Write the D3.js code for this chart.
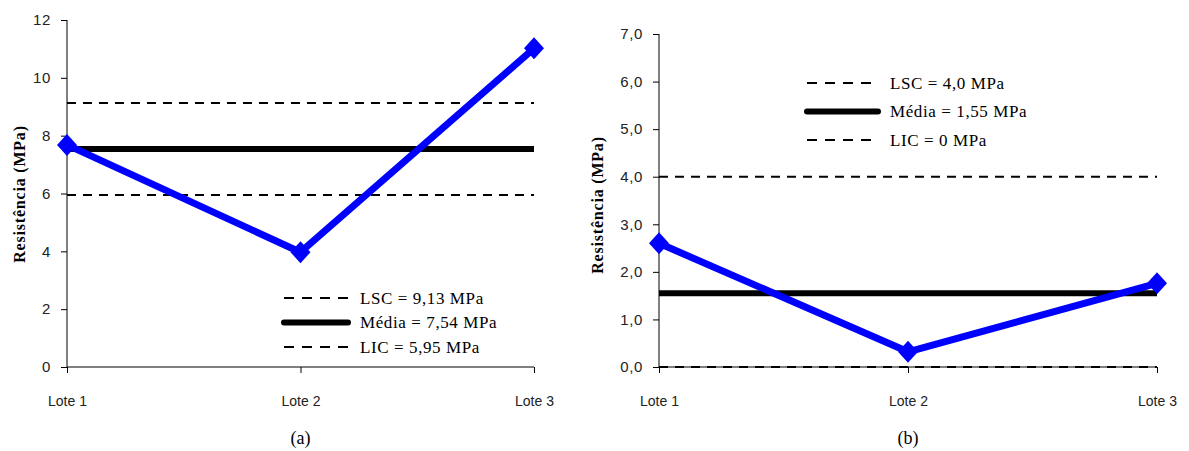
<!DOCTYPE html>
<html>
<head>
<meta charset="utf-8">
<script src="https://cdn.jsdelivr.net/npm/d3@7"></script>
<style>
  body { margin: 0; background: #fff; }
  svg { display: block; }
</style>
</head>
<body>
<svg id="chart" width="1189" height="451"></svg>
<script>
// dados
var lotes = ["Lote 1", "Lote 2", "Lote 3"];
var resistA = [7.68, 3.97, 11.02];
var resistB = [2.6, 0.32, 1.76];
var limitesA = [9.13, 7.54, 5.95];   // LSC, Media, LIC
var limitesB = [4.0, 1.55, 0];
var legendaA = ["LSC = 9,13 MPa", "Média = 7,54 MPa", "LIC = 5,95 MPa"];
var legendaB = ["LSC = 4,0 MPa", "Média = 1,55 MPa", "LIC = 0 MPa"];
var ticksA = [0, 2, 4, 6, 8, 10, 12];
var ticksB = [0, 1, 2, 3, 4, 5, 6, 7];

var svg = d3.select("#chart");

// os rotulos "Lote" aparecem cortados em cima no original
// (coordenadas locais de cada tick)
svg.append("defs").append("clipPath").attr("id", "corte")
    .append("rect").attr("x", -60).attr("y", 28).attr("width", 120).attr("height", 30);

function painel(cfg) {
    var g = svg.append("g");

    var x = d3.scalePoint().domain(lotes).range([cfg.x0, cfg.x1]);
    var y = d3.scaleLinear().domain([0, cfg.ymax]).range([367, cfg.ytop]);

    // eixo y
    var ay = g.append("g")
        .attr("transform", "translate(" + cfg.x0 + ",0)")
        .call(d3.axisLeft(y).tickValues(cfg.ticks).tickSize(6).tickPadding(10)
            .tickFormat(cfg.fmt));
    ay.select(".domain").attr("d", "M0," + y(0) + "V" + y(cfg.ymax));
    ay.selectAll("text").attr("font-family", "Liberation Sans, Arial, sans-serif")
        .attr("font-size", 15).attr("letter-spacing", 0.6).attr("fill", "#222");

    // linhas de controle
    var estilos = [
        {w: 2, dash: "9,7"},
        {w: 6, dash: null},
        {w: 2, dash: "9,7"}
    ];
    cfg.limites.forEach(function (v, i) {
        g.append("line")
            .attr("x1", cfg.x0).attr("x2", cfg.x1)
            .attr("y1", y(v)).attr("y2", y(v))
            .attr("stroke", "#000")
            .attr("stroke-width", estilos[i].w)
            .attr("stroke-dasharray", estilos[i].dash);
    });

    // eixo x
    var ax = g.append("g")
        .attr("transform", "translate(0," + y(0) + ")")
        .call(d3.axisBottom(x).tickSize(6).tickPadding(23));
    ax.select(".domain").attr("d", "M" + cfg.x0 + ",0H" + cfg.x1);
    ax.selectAll("text").attr("font-family", "Liberation Sans, Arial, sans-serif")
        .attr("font-size", 14).attr("fill", "#222")
        .attr("clip-path", "url(#corte)");

    // serie
    var linha = d3.line()
        .x(function (d, i) { return x(lotes[i]); })
        .y(function (d) { return y(d); });
    g.append("path")
        .datum(cfg.valores)
        .attr("d", linha)
        .attr("fill", "none")
        .attr("stroke", "#0000ff")
        .attr("stroke-width", 7)
        .attr("stroke-linejoin", "round");

    g.selectAll(".mk")
        .data(cfg.valores)
        .enter().append("path")
        .attr("class", "mk")
        .attr("transform", function (d, i) {
            return "translate(" + x(lotes[i]) + "," + y(d) + ")";
        })
        .attr("d", "M0,-11L10,0L0,11L-10,0Z")
        .attr("fill", "#0000ff");

    // legenda
    var leg = g.append("g");
    cfg.legenda.forEach(function (t, i) {
        var ly = cfg.legY + i * cfg.legDy;
        leg.append("line")
            .attr("x1", cfg.legX).attr("x2", cfg.legX + cfg.legW)
            .attr("y1", ly).attr("y2", ly)
            .attr("stroke", "#000")
            .attr("stroke-width", estilos[i].w)
            .attr("stroke-linecap", i === 1 ? "round" : "butt")
            .attr("stroke-dasharray", i === 1 ? null : "10,8");
        leg.append("text")
            .attr("x", cfg.legX + cfg.legW + 12)
            .attr("y", ly)
            .attr("dy", "0.35em")
            .attr("font-family", "Liberation Serif, Times New Roman, serif")
            .attr("font-size", 17)
            .attr("letter-spacing", 0.6)
            .text(t);
    });

    // titulo do eixo
    g.append("text")
        .attr("transform", "translate(" + cfg.titX + "," + cfg.titY + ") rotate(-90)")
        .attr("text-anchor", "middle")
        .attr("dy", "0.35em")
        .attr("font-family", "Liberation Serif, Times New Roman, serif")
        .attr("font-weight", "bold")
        .attr("font-size", 16)
        .attr("letter-spacing", 0.8)
        .text("Resistência (MPa)");

    g.append("text")
        .attr("x", x(lotes[1]))
        .attr("y", 444)
        .attr("text-anchor", "middle")
        .attr("font-family", "Liberation Serif, Times New Roman, serif")
        .attr("font-size", 18)
        .text(cfg.rotulo);
}

painel({
    x0: 67, x1: 534, ymax: 12, ytop: 20, ticks: ticksA,
    fmt: function (d) { return d; },
    valores: resistA, limites: limitesA, legenda: legendaA,
    legX: 284, legW: 64, legY: 298, legDy: 24.5,
    titX: 19, titY: 194, rotulo: "(a)"
});

painel({
    x0: 659, x1: 1157, ymax: 7, ytop: 34, ticks: ticksB,
    fmt: function (d) { return d3.format(".1f")(d).replace(".", ","); },
    valores: resistB, limites: limitesB, legenda: legendaB,
    legX: 807, legW: 71, legY: 83, legDy: 28.5,
    titX: 597, titY: 205, rotulo: "(b)"
});
</script>
</body>
</html>
